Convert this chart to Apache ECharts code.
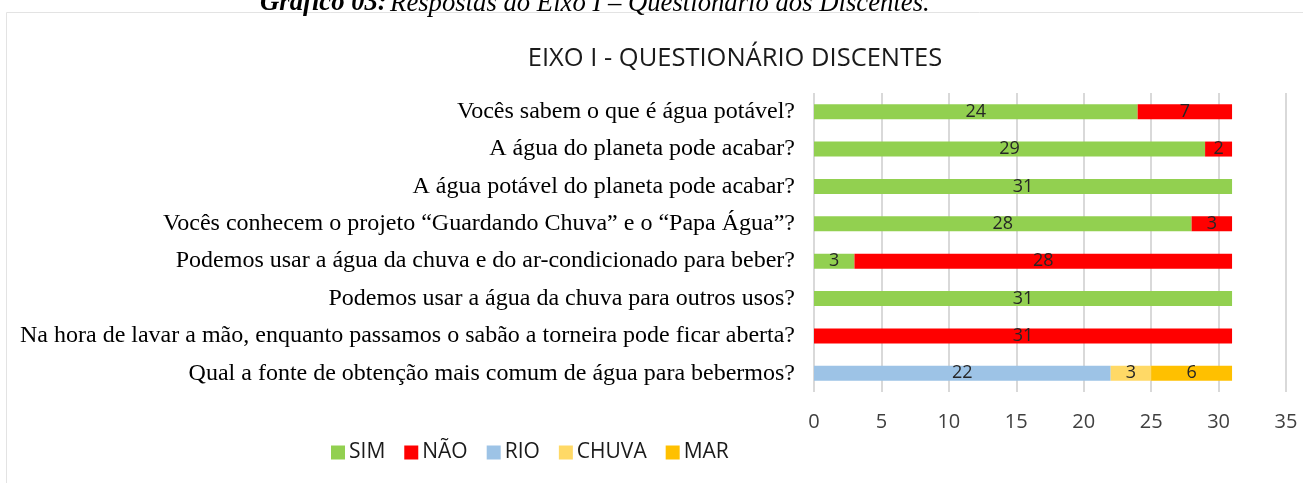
<!DOCTYPE html>
<html lang="pt-BR">
<head>
    <meta charset="UTF-8">
    <title>Eixo I - Questionário Discentes</title>
    <script src="https://cdn.jsdelivr.net/npm/echarts@6/dist/echarts.min.js"></script>
    <style>
        html, body { margin: 0; padding: 0; background: #fff; }
    </style>
</head>
<body>
    <div id="main" style="width: 1303px; height: 483px;"></div>
    <script>
        var perguntas = [
            'Vocês sabem o que é água potável?',
            'A água do planeta pode acabar?',
            'A água potável do planeta pode acabar?',
            'Vocês conhecem o projeto “Guardando Chuva” e o “Papa Água”?',
            'Podemos usar a água da chuva e do ar-condicionado para beber?',
            'Podemos usar a água da chuva para outros usos?',
            'Na hora de lavar a mão, enquanto passamos o sabão a torneira pode ficar aberta?',
            'Qual a fonte de obtenção mais comum de água para bebermos?'
        ];
        var sim   = [24, 29, 31, 28, 3, 31, '-', '-'];
        var nao   = [7, 2, '-', 3, 28, '-', 31, '-'];
        var rio   = ['-', '-', '-', '-', '-', '-', '-', 22];
        var chuva = ['-', '-', '-', '-', '-', '-', '-', 3];
        var mar   = ['-', '-', '-', '-', '-', '-', '-', 6];
        var xTicks = [0, 5, 10, 15, 20, 25, 30, 35];

        var sans = '"Open Sans", "Noto Sans", sans-serif';
        var serif = '"Liberation Serif", "Times New Roman", serif';

        function barra(nome, dados, cor) {
            return {
                name: nome,
                type: 'bar',
                stack: 'total',
                barWidth: 15,
                data: dados,
                itemStyle: { color: cor },
                label: {
                    show: true,
                    position: 'inside',
                    color: '#262626',
                    fontFamily: sans,
                    fontSize: 18
                }
            };
        }

        var myChart = echarts.init(document.getElementById('main'));
        var option = {
            backgroundColor: '#fff',
            animation: false,
            title: {
                text: 'EIXO I - QUESTIONÁRIO DISCENTES',
                left: 730,
                top: 41,
                textAlign: 'center',
                textStyle: {
                    fontFamily: sans,
                    fontWeight: 'normal',
                    fontSize: 25.5,
                    color: '#1a1a1a'
                }
            },
            graphic: [
                {
                    type: 'rect',
                    shape: { x: 6.5, y: 12.5, width: 1310, height: 480 },
                    style: { fill: 'none', stroke: '#e3e3e3', lineWidth: 1 },
                    z: -1
                },
                {
                    type: 'text',
                    x: 260,
                    y: 17,
                    style: {
                        text: '{b|Gráfico 03:} {i|Respostas do Eixo I – Questionário dos Discentes.}',
                        verticalAlign: 'bottom',
                        rich: {
                            b: { fontFamily: serif, fontStyle: 'italic', fontWeight: 'bold', fontSize: 26.7, fill: '#000' },
                            i: { fontFamily: serif, fontStyle: 'italic', fontSize: 26.7, fill: '#000' }
                        }
                    }
                }
            ],
            legend: {
                left: 326,
                top: 437,
                itemWidth: 14,
                itemHeight: 14,
                itemGap: 19,
                icon: 'rect',
                textStyle: { fontFamily: sans, fontSize: 21, color: '#1a1a1a', padding: [0, 0, 0, -1] },
                data: ['SIM', 'NÃO', 'RIO', 'CHUVA', 'MAR']
            },
            grid: {
                left: 814,
                right: 17,
                top: 93,
                height: 299
            },
            xAxis: {
                type: 'value',
                min: 0,
                max: 35,
                interval: 5,
                axisLine: { show: false },
                axisTick: { show: false },
                splitLine: { show: true, lineStyle: { color: '#d9d9d9', width: 2 } },
                axisLabel: {
                    margin: 20,
                    fontFamily: sans,
                    fontSize: 20,
                    color: '#404040',
                    formatter: function (v) { return xTicks.indexOf(v) >= 0 ? String(v) : ''; }
                }
            },
            yAxis: {
                type: 'category',
                inverse: true,
                data: perguntas,
                axisLine: { show: false },
                axisTick: { show: false },
                axisLabel: {
                    margin: 19,
                    fontFamily: serif,
                    fontSize: 24,
                    color: '#000'
                }
            },
            series: [
                barra('SIM', sim, '#92D050'),
                barra('NÃO', nao, '#FF0000'),
                barra('RIO', rio, '#9DC3E6'),
                barra('CHUVA', chuva, '#FFD966'),
                barra('MAR', mar, '#FFC000')
            ]
        };

        myChart.setOption(option);
    </script>
</body>
</html>
